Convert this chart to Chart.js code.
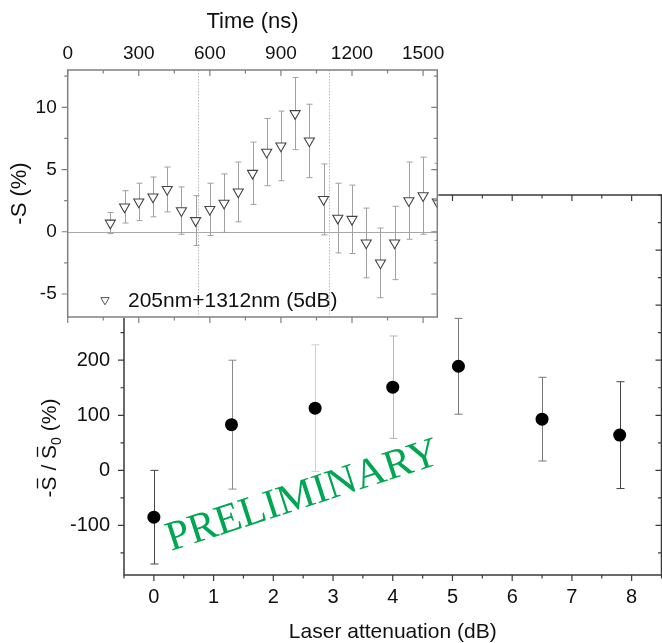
<!DOCTYPE html>
<html>
<head>
<meta charset="utf-8">
<script src="https://cdn.jsdelivr.net/npm/chart.js@4.4.0/dist/chart.umd.min.js"></script>
<style>
  html, body { margin: 0; padding: 0; background: #fff; overflow: hidden; }
  #wrap { position: relative; width: 662px; height: 643px; overflow: hidden; }
  canvas { position: absolute; left: 0; top: 0; }
</style>
</head>
<body>
<div id="wrap">
  <canvas id="mainChart" width="668" height="643"></canvas>
  <canvas id="insetChart" width="470" height="330"></canvas>
</div>
<script>
// main plot: ratio vs laser attenuation
const attenuation = [0, 1.3, 2.7, 4.0, 5.1, 6.5, 7.8];
const ratio = [-85, 83, 113, 151, 189, 93, 64];
const ratioErr = [85, 117, 115, 93, 87, 76, 97];
const attenTicks = [0, 1, 2, 3, 4, 5, 6, 7, 8];
const ratioTicks = [-100, 0, 100, 200, 300, 400];

// inset: signal vs time (5 dB)
const timeNs = [180, 240, 300, 360, 420, 480, 540, 600, 660, 720, 780, 840,
  900, 960, 1020, 1080, 1140, 1200, 1260, 1320, 1380, 1440, 1500, 1560];
const signal = [0.7, 2.0, 2.4, 2.8, 3.4, 1.7, 0.9, 1.8, 2.3, 3.2, 4.7, 6.4,
  6.9, 9.5, 7.3, 2.6, 1.1, 1.0, -0.9, -2.5, -0.9, 2.5, 2.9, 2.4];
const signalErr = [0.85, 1.3, 1.5, 1.6, 1.8, 1.9, 2.0, 2.1, 2.35, 2.4, 2.5, 2.7,
  2.8, 2.9, 2.95, 2.85, 2.8, 2.75, 2.8, 2.8, 2.95, 3.1, 3.1, 3.1];
const timeTicks = [0, 300, 600, 900, 1200, 1500];
const signalTicks = [-5, 0, 5, 10];
const pulseEdges = [548, 1104];

const mainErrColors = ["#444", "#8a8a8a", "#d0d0d0", "#b5b5b5", "#777", "#777", "#444"];

Chart.defaults.font.family = '"Liberation Sans", Arial, sans-serif';
Chart.defaults.color = "#111";
Chart.defaults.animation = false;
Chart.defaults.plugins.legend.display = false;
Chart.defaults.plugins.tooltip.enabled = false;

function ticksBetween(min, max, step) {
  const out = [];
  for (let v = Math.ceil(min / step - 1e-9) * step; v <= max + 1e-9; v += step) out.push(v);
  return out;
}
const isIn = (arr, v) => arr.some((m) => Math.abs(m - v) < 1e-6);
const fixTicks = (vals) => (s) => { s.ticks = vals.map((v) => ({ value: v })); };
// pin axis size and drop the label overhang padding so the plot box lands where it should
const fitW = (w) => (s) => { s.width = w; s.paddingTop = 0; s.paddingBottom = 0; };
const fitH = (h) => (s) => { s.height = h; s.paddingLeft = 0; s.paddingRight = 0; };

function errorBars(errs, colors, cap) {
  return {
    id: "errorBars",
    beforeDatasetsDraw(chart) {
      const { ctx, chartArea: a, scales: { x, y } } = chart;
      const pts = chart.data.datasets[0].data;
      ctx.save();
      ctx.beginPath();
      ctx.rect(a.left, a.top, a.width, a.height);
      ctx.clip();
      ctx.lineWidth = 1;
      pts.forEach((p, i) => {
        const px = Math.round(x.getPixelForValue(p.x)) + 0.5;
        const y1 = y.getPixelForValue(p.y + errs[i]);
        const y2 = y.getPixelForValue(p.y - errs[i]);
        ctx.strokeStyle = Array.isArray(colors) ? colors[i] : colors;
        ctx.beginPath();
        ctx.moveTo(px, y1); ctx.lineTo(px, y2);
        ctx.moveTo(px - cap, y1); ctx.lineTo(px + cap, y1);
        ctx.moveTo(px - cap, y2); ctx.lineTo(px + cap, y2);
        ctx.stroke();
      });
      ctx.restore();
    },
  };
}

// box round the plot, ticks out on left/bottom and in on top/right
function frame(o) {
  return {
    id: "frame",
    afterDatasetsDraw(chart) {
      const { ctx, chartArea: a, scales: { x, y } } = chart;
      ctx.save();
      ctx.strokeStyle = o.color;
      ctx.lineWidth = o.width;
      ctx.strokeRect(a.left, a.top, a.width, a.height);
      ctx.lineWidth = 1.2;
      ctx.beginPath();
      ticksBetween(x.min, x.max, o.xMinor).forEach((v) => {
        const len = isIn(o.xMajor, v) ? 6 : 3.5;
        const px = x.getPixelForValue(v);
        ctx.moveTo(px, a.bottom); ctx.lineTo(px, a.bottom + len);
        ctx.moveTo(px, a.top); ctx.lineTo(px, a.top + len);
      });
      ticksBetween(y.min, y.max, o.yMinor).forEach((v) => {
        const len = isIn(o.yMajor, v) ? 6 : 3.5;
        const py = y.getPixelForValue(v);
        ctx.moveTo(a.left, py); ctx.lineTo(a.left - len, py);
        ctx.moveTo(a.right, py); ctx.lineTo(a.right - len, py);
      });
      ctx.stroke();
      ctx.restore();
    },
  };
}

const mainText = {
  id: "mainText",
  afterDraw(chart) {
    const { ctx } = chart;
    ctx.save();
    // y title: -S / S0 (%) with bars over the S
    ctx.translate(48, 448);
    ctx.rotate(-Math.PI / 2);
    ctx.fillStyle = "#111";
    ctx.strokeStyle = "#111";
    ctx.lineWidth = 1.3;
    ctx.textBaseline = "alphabetic";
    const big = '21px "Liberation Sans", Arial, sans-serif';
    const small = '14px "Liberation Sans", Arial, sans-serif';
    const parts = [["-", big, 0, false], ["S", big, 0, true], [" / ", big, 0, false],
      ["S", big, 0, true], ["0", small, 5, false], [" (%)", big, 0, false]];
    let total = 0;
    parts.forEach((p) => { ctx.font = p[1]; total += ctx.measureText(p[0]).width; });
    let cx = -total / 2;
    parts.forEach(([t, f, dy, bar]) => {
      ctx.font = f;
      const w = ctx.measureText(t).width;
      ctx.fillText(t, cx, 7.5 + dy);
      if (bar) {
        ctx.beginPath();
        ctx.moveTo(cx + 2, -10.5); ctx.lineTo(cx + w - 2, -10.5);
        ctx.stroke();
      }
      cx += w;
    });
    ctx.restore();

    ctx.save();
    ctx.translate(171, 551);
    ctx.rotate(-18 * Math.PI / 180);
    ctx.font = '42px "Liberation Serif", "Times New Roman", serif';
    ctx.fillStyle = "#00a651";
    ctx.fillText("PRELIMINARY", 0, 0);
    ctx.restore();
  },
};

new Chart(document.getElementById("mainChart"), {
  type: "scatter",
  data: {
    datasets: [{
      data: attenuation.map((x, i) => ({ x, y: ratio[i] })),
      pointRadius: 6.5,
      backgroundColor: "#000",
      borderWidth: 0,
    }],
  },
  options: {
    responsive: false,
    layout: { padding: { top: 195, right: 1.5, bottom: 0, left: 0 } },
    scales: {
      x: {
        type: "linear", min: -0.5, max: 8.5,
        afterBuildTicks: fixTicks(attenTicks),
        afterFit: fitH(68),
        grid: { display: false, drawTicks: false },
        border: { display: false },
        ticks: { font: { size: 20 }, padding: 10, callback: (v) => String(v) },
        title: { display: true, text: "Laser attenuation (dB)", font: { size: 21, lineHeight: 1 }, padding: 0 },
      },
      y: {
        min: -190, max: 500,
        afterBuildTicks: fixTicks(ratioTicks),
        afterFit: fitW(124),
        grid: { display: false, drawTicks: false },
        border: { display: false },
        ticks: { font: { size: 20 }, padding: 14, callback: (v) => String(v) },
      },
    },
  },
  plugins: [
    errorBars(ratioErr, mainErrColors, 4),
    frame({ color: "#3a3a3a", width: 1.5, xMajor: attenTicks, xMinor: 0.5, yMajor: ratioTicks, yMinor: 50 }),
    mainText,
  ],
});

const insetBack = {
  id: "insetBack",
  beforeDraw(chart) {
    const { ctx, chartArea: a } = chart;
    ctx.save();
    ctx.fillStyle = "#fff";
    ctx.fillRect(0, 0, a.right + 1, a.bottom + 1);
    ctx.restore();
  },
  beforeDatasetsDraw(chart) {
    const { ctx, chartArea: a, scales: { x, y } } = chart;
    ctx.save();
    ctx.lineWidth = 1;
    ctx.strokeStyle = "#a8a8a8";
    const y0 = Math.round(y.getPixelForValue(0)) + 0.5;
    ctx.beginPath();
    ctx.moveTo(a.left, y0); ctx.lineTo(a.right, y0);
    ctx.stroke();
    ctx.strokeStyle = "#bdbdbd";
    ctx.setLineDash([1.5, 1.5]);
    pulseEdges.forEach((t) => {
      const px = Math.round(x.getPixelForValue(t)) + 0.5;
      ctx.beginPath();
      ctx.moveTo(px, a.top); ctx.lineTo(px, a.bottom);
      ctx.stroke();
    });
    ctx.restore();
  },
  afterDraw(chart) {
    const { ctx } = chart;
    ctx.save();
    ctx.fillStyle = "#fff";
    ctx.strokeStyle = "#555";
    Chart.helpers.drawPoint(ctx, { pointStyle: "triangle", rotation: 180, radius: 4.8, borderWidth: 1 }, 105, 300);
    ctx.fillStyle = "#111";
    ctx.font = '21px "Liberation Sans", Arial, sans-serif';
    ctx.textBaseline = "middle";
    ctx.fillText("205nm+1312nm (5dB)", 128, 301);
    ctx.restore();
  },
};

new Chart(document.getElementById("insetChart"), {
  type: "scatter",
  data: {
    datasets: [{
      data: timeNs.map((x, i) => ({ x, y: signal[i] })),
      pointStyle: "triangle",
      rotation: 180,
      pointRadius: 5.8,
      backgroundColor: "#fff",
      borderColor: "#444",
      borderWidth: 1.1,
      clip: 0,
    }],
  },
  options: {
    responsive: false,
    layout: { padding: { top: 0, right: 32.7, bottom: 13, left: 0 } },
    scales: {
      x: {
        type: "linear", position: "top", min: 0, max: 1560,
        afterBuildTicks: fixTicks(timeTicks),
        afterFit: fitH(70),
        grid: { display: false, drawTicks: false },
        border: { display: false },
        ticks: { font: { size: 19 }, padding: 5, callback: (v) => String(v) },
        title: { display: true, text: "Time (ns)", font: { size: 22, lineHeight: 1 }, padding: { top: 10.7, bottom: 0 } },
      },
      y: {
        min: -6.85, max: 13,
        afterBuildTicks: fixTicks(signalTicks),
        afterFit: fitW(67.7),
        grid: { display: false, drawTicks: false },
        border: { display: false },
        ticks: { font: { size: 19 }, padding: 11, callback: (v) => String(v) },
        title: { display: true, text: "-S (%)", font: { size: 22, lineHeight: 1 }, padding: { top: 9, bottom: 0 } },
      },
    },
  },
  plugins: [
    insetBack,
    errorBars(signalErr, "#a0a0a0", 3),
    frame({ color: "#808080", width: 1.5, xMajor: timeTicks, xMinor: 150, yMajor: signalTicks, yMinor: 2.5 }),
  ],
});
</script>
</body>
</html>
